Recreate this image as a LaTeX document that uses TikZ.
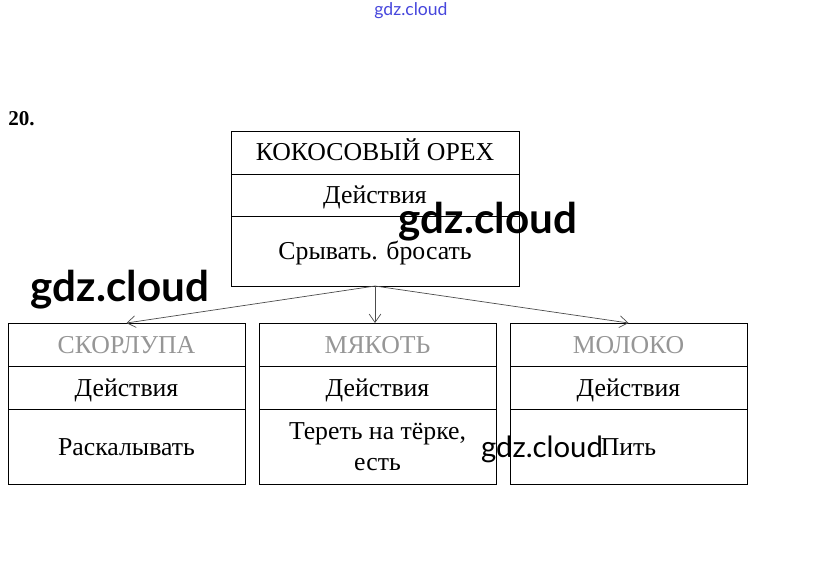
\documentclass[tikz,border=0pt]{standalone}
\usepackage{fontspec}
\setmainfont{Liberation Serif}
\newfontfamily\wmfont{Lato}
\usepackage{tikz}
\usetikzlibrary{arrows.meta, positioning}
\definecolor{fadegray}{RGB}{150, 150, 150}
\definecolor{wmblue}{RGB}{70, 70, 220}

\begin{document}
\begin{tikzpicture}[
    x=0.03cm, y=-0.03cm,
    cell/.style={rectangle, draw=black, line width=0.8pt, inner sep=0pt, outer sep=0pt,
                 align=center, font=\fontsize{22}{26}\selectfont},
    oneline/.style={text height=14.5pt, text depth=0pt},
    topcell/.style={cell, minimum width=8.64cm},
    subcell/.style={cell, minimum width=7.11cm},
    arrow/.style={-{Straight Barb[length=2.5mm, width=3.5mm]}, line width=0.6pt, color=black!70},
    wmark/.style={font=\wmfont\bfseries\fontsize{36}{40}\selectfont}
]
\useasboundingbox (0,0) rectangle (823,585);

\node[font=\fontsize{18}{20}\selectfont\bfseries] (num) at (21.5,119) {20.};

% top box
\node[topcell, oneline, minimum height=1.29cm] (nut-h) at (375,152.5) {КОКОСОВЫЙ ОРЕХ};
\node[topcell, oneline, minimum height=1.26cm, below=0cm of nut-h] (nut-a) {Действия};
\node[topcell, oneline, minimum height=2.1cm, below=0cm of nut-a] (nut-t) {Срывать. бросать};

% bottom boxes
\node[subcell, oneline, minimum height=1.29cm, text=fadegray] (shell-h) at (126.5,344.5) {СКОРЛУПА};
\node[subcell, oneline, minimum height=1.29cm, below=0cm of shell-h] (shell-a) {Действия};
\node[subcell, oneline, minimum height=2.25cm, below=0cm of shell-a] (shell-t) {Раскалывать};

\node[subcell, oneline, minimum height=1.29cm, text=fadegray, right=0.42cm of shell-h] (pulp-h) {МЯКОТЬ};
\node[subcell, oneline, minimum height=1.29cm, below=0cm of pulp-h] (pulp-a) {Действия};
\node[subcell, minimum height=2.25cm, below=0cm of pulp-a] (pulp-t) {Тереть на тёрке,\\есть};

\node[subcell, oneline, minimum height=1.29cm, text=fadegray, right=0.42cm of pulp-h] (milk-h) {МОЛОКО};
\node[subcell, oneline, minimum height=1.29cm, below=0cm of milk-h] (milk-a) {Действия};
\node[subcell, oneline, minimum height=2.25cm, below=0cm of milk-a] (milk-t) {Пить};

\draw[arrow] (nut-t.south) -- (shell-h.north);
\draw[arrow] (nut-t.south) -- (nut-t.south |- pulp-h.north);
\draw[arrow] (nut-t.south) -- (milk-h.north);

% watermarks
\node[wmark] (wm1) at (488,222) {gdz.cloud};
\node[wmark] (wm2) at (120,290) {gdz.cloud};
\node[font=\wmfont\fontsize{25}{28}\selectfont] (wm3) at (542,449) {gdz.cloud};
\node[font=\wmfont\fontsize{15}{18}\selectfont, text=wmblue] (wm4) at (411,11) {gdz.cloud};

\end{tikzpicture}
\end{document}
